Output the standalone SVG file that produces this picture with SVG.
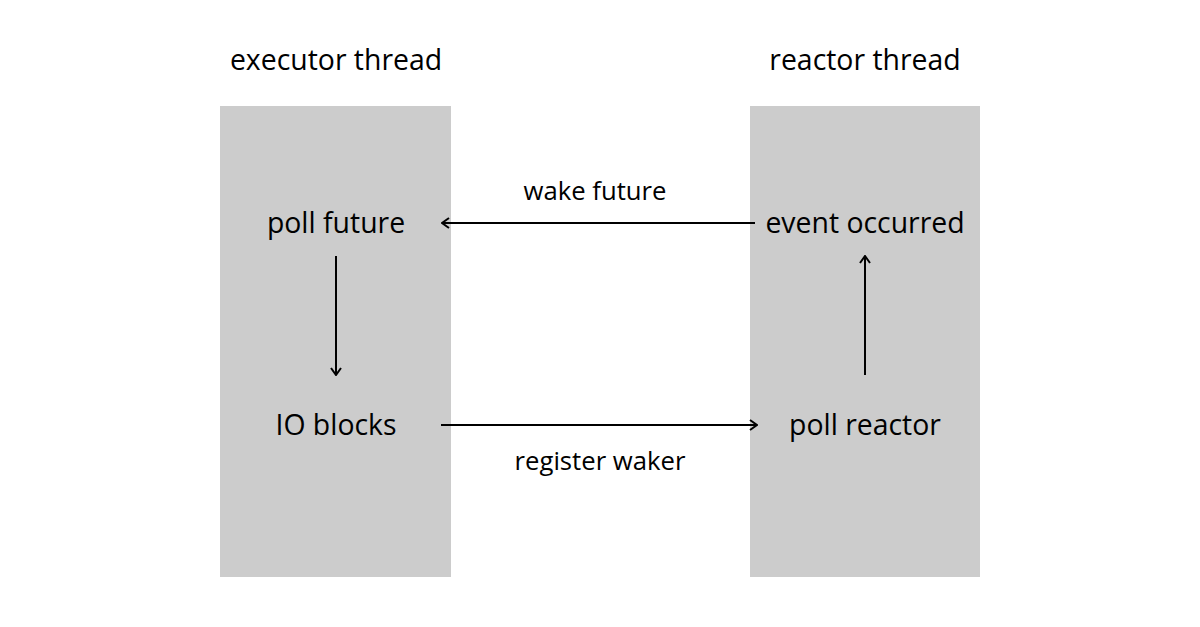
<svg xmlns="http://www.w3.org/2000/svg" width="1200" height="627" viewBox="0 0 1200 627">
<style>
text{font-family:"Open Sans","Noto Sans",sans-serif;fill:#000;text-anchor:middle}
.t{font-size:28.4px}
.l{font-size:25.7px}
.col{fill:#cccccc}
.c{stroke:#000;stroke-width:2;fill:none}
</style>
<defs>
<marker id="ah" viewBox="0 0 12 12" refX="11" refY="6" markerWidth="12" markerHeight="12" markerUnits="userSpaceOnUse" orient="auto">
<path d="M4,1 L11,6 L4,11" fill="none" stroke="#000" stroke-width="2"/>
</marker>
</defs>
<rect width="1200" height="627" fill="#fff"/>
<g id="executor">
<rect class="col" x="220" y="106" width="231" height="471"/>
<text class="t" x="336" y="70">executor thread</text>
</g>
<g id="reactor">
<rect class="col" x="750" y="106" width="230" height="471"/>
<text class="t" x="865" y="70">reactor thread</text>
</g>
<g id="poll-future"><text class="t" x="336" y="233">poll future</text></g>
<g id="io-blocks"><text class="t" x="336" y="435">IO blocks</text></g>
<g id="event-occurred"><text class="t" x="865" y="233">event occurred</text></g>
<g id="poll-reactor"><text class="t" x="865" y="435">poll reactor</text></g>
<g id="connectors">
<line class="c" x1="755" y1="223" x2="442" y2="223" marker-end="url(#ah)"/>
<line class="c" x1="441" y1="425" x2="757" y2="425" marker-end="url(#ah)"/>
<line class="c" x1="336" y1="256" x2="336" y2="375" marker-end="url(#ah)"/>
<line class="c" x1="865" y1="375" x2="865" y2="256" marker-end="url(#ah)"/>
<text class="l" x="595" y="200">wake future</text>
<text class="l" x="600" y="470">register waker</text>
</g>
</svg>
